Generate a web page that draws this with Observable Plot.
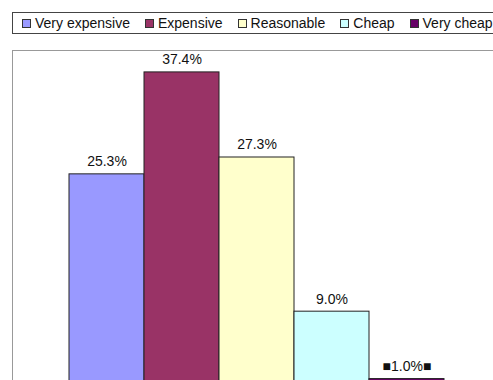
<!DOCTYPE html>
<html>
<head>
<meta charset="utf-8">
<script src="https://cdn.jsdelivr.net/npm/d3@7"></script>
<script src="https://cdn.jsdelivr.net/npm/@observablehq/plot@0.6"></script>
<style>
  html, body { margin: 0; padding: 0; background: #fff; overflow: hidden; }
  body { position: relative; width: 493px; height: 380px; font-family: "Liberation Sans", Arial, sans-serif; }
  #legend {
    position: absolute; left: 12px; top: 12px; width: 560px; height: 20px;
    border: 1px solid #444; box-sizing: content-box;
    display: flex; align-items: center; padding-left: 9px; gap: 15px;
    font-size: 14px; color: #111; white-space: nowrap; background: #fff; z-index: 2;
  }
  #legend .item { display: flex; align-items: center; gap: 4px; }
  #legend .sw { width: 7px; height: 7px; border: 1px solid #333; display: inline-block; }
  #chart { position: absolute; left: 0; top: 0; width: 520px; }
  #chart svg { max-width: none !important; }
</style>
</head>
<body>
<div id="legend"></div>
<div id="chart"></div>
<script>
const categories = ["Very expensive", "Expensive", "Reasonable", "Cheap", "Very cheap"];
const values = [25.3, 37.4, 27.3, 9.0, 1.0];
const labels = ["25.3%", "37.4%", "27.3%", "9.0%", "\u25A01.0%\u25A0"];
const colors = ["#9999FF", "#993366", "#FFFFCC", "#CCFFFF", "#660066"];

const data = categories.map((c, i) => ({category: c, value: values[i], label: labels[i]}));

const legend = document.getElementById("legend");
categories.forEach((c, i) => {
  const item = document.createElement("span");
  item.className = "item";
  const sw = document.createElement("span");
  sw.className = "sw";
  sw.style.background = colors[i];
  const t = document.createElement("span");
  t.textContent = c;
  item.appendChild(sw);
  item.appendChild(t);
  legend.appendChild(item);
});

const chart = Plot.plot({
  width: 520,
  height: 420,
  marginTop: 50,
  marginBottom: 33,
  marginLeft: 12,
  marginRight: 0,
  style: {background: "transparent", fontFamily: "Liberation Sans, Arial, sans-serif", maxWidth: "none"},
  x: {domain: categories, range: [68, 445], padding: 0, axis: null},
  y: {domain: [0, 40], axis: null},
  color: {domain: categories, range: colors},
  marks: [
    Plot.frame({stroke: "#999", strokeWidth: 1}),
    Plot.barY(data, {x: "category", y: "value", fill: "category", stroke: "#222", strokeWidth: 1}),
    Plot.text(data, {x: "category", y: "value", text: "label", lineAnchor: "bottom", dy: -8, fontSize: 14, fill: "#111"})
  ]
});
document.getElementById("chart").appendChild(chart);
</script>
</body>
</html>
